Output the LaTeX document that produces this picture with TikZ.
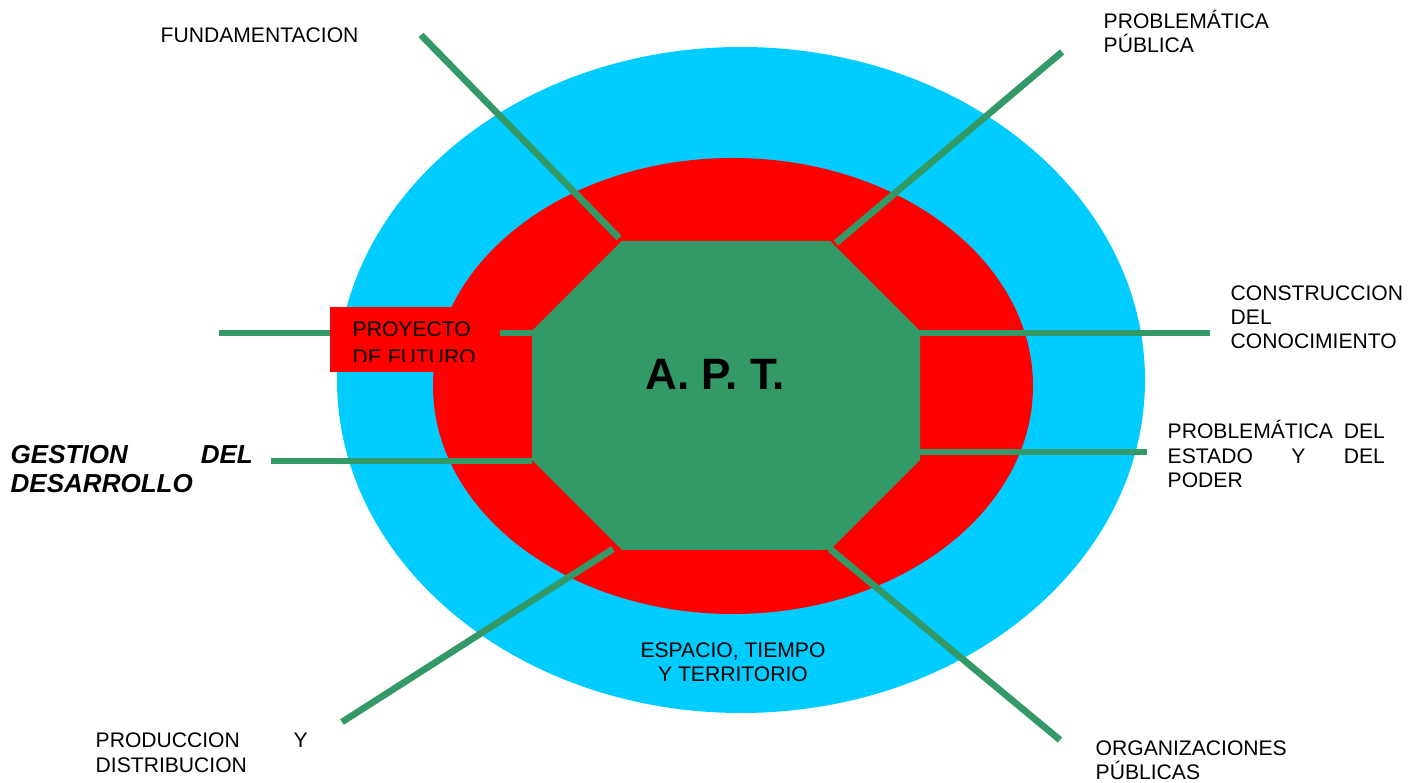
\documentclass[tikz,border=0pt]{standalone}
\usepackage{fontspec}
\setmainfont{Liberation Sans}
\definecolor{aptgreen}{RGB}{51,153,102}
\definecolor{aptred}{RGB}{255,0,0}
\definecolor{aptblue}{RGB}{0,204,255}

\begin{document}
\begin{tikzpicture}[x=0.01cm,y=-0.01cm,
  spoke/.style={draw=aptgreen,line width=1.9pt},
  lbl/.style={inner sep=0pt,anchor=base west,align=left,
    font=\fontsize{6}{6.83}\selectfont},
  boldlbl/.style={lbl,font=\bfseries\itshape\fontsize{7.4}{7.97}\selectfont}]

\def\clrout{aptblue}
\def\clrmid{aptred}
\def\clrin{aptgreen}

\useasboundingbox (0,0) rectangle (1421,783);

% rings
\fill [\clrout] (741,380) ellipse [x radius=404, y radius=333];
\fill [\clrmid] (733,386) ellipse [x radius=300, y radius=228];

% octagon
\coordinate (o1) at (622,241);
\coordinate (o2) at (830,241);
\coordinate (o3) at (920,331);
\coordinate (o4) at (920,460);
\coordinate (o5) at (830,550);
\coordinate (o6) at (622,550);
\coordinate (o7) at (532,460);
\coordinate (o8) at (532,331);
\fill [\clrin] (o1) -- (o2) -- (o3) -- (o4) -- (o5) -- (o6) -- (o7) -- (o8) -- cycle;
\node [font=\bfseries\fontsize{12.5}{14}\selectfont,inner sep=0pt,anchor=base] (apt) at (715,390) {A. P. T.};

% free ends of the spokes
\coordinate (eFund) at (421,35);
\coordinate (ePubl) at (1062,52);
\coordinate (eProy) at (219,333);
\coordinate (eGest) at (271,461);
\coordinate (eCons) at (1210,333);
\coordinate (eEsta) at (1147,452);
\coordinate (eProd) at (342,722);
\coordinate (eOrga) at (1060,740);

\coordinate (iFund) at (619,238);
\coordinate (iPubl) at (836,243);
\coordinate (iProy) at (532,333);
\coordinate (iGest) at (532,461);
\coordinate (iCons) at (920,333);
\coordinate (iEsta) at (920,452);
\coordinate (iProd) at (613,549);
\coordinate (iOrga) at (830,549);

\foreach \s in {Fund,Publ,Proy,Gest,Cons,Esta,Prod,Orga}
  \draw [spoke] (e\s) -- (i\s);

% box over the left spoke
\fill [\clrmid] (330,307) rectangle (500,372);
\begin{scope}
  \clip (330,307) rectangle (500,362);
  \node [lbl,font=\fontsize{6}{7.97}\selectfont] (proy) at (352,365) {PROYECTO\\DE FUTURO};
\end{scope}

% labels (base = last line)
\node [lbl] (fund) at (160,43) {FUNDAMENTACION};
\node [lbl] (publ) at (1103,53) {PROBLEM\'ATICA\\P\'UBLICA};
\node [lbl] (cons) at (1230,349) {CONSTRUCCION\\DEL\\CONOCIMIENTO};
\node [lbl,text width=2.17cm] (esta) at (1167,439) {PROBLEM\'ATICA\hfill DEL\\ESTADO\hfill Y\hfill DEL\\PODER};
\node [boldlbl,text width=2.42cm] (gest) at (10,464) {GESTION\hfill DEL\\DESARROLLO};
\node [lbl,text width=2.12cm] (prod) at (95,748) {PRODUCCION\hfill Y\\DISTRIBUCION};
\node [lbl] (orga) at (1095,780) {ORGANIZACIONES\\P\'UBLICAS};
\node [lbl,anchor=base,align=center] (espa) at (733,682) {ESPACIO, TIEMPO\\Y TERRITORIO};

\end{tikzpicture}
\end{document}
